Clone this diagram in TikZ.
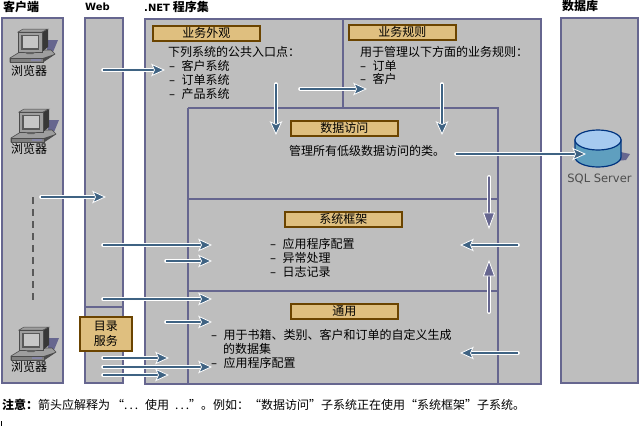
\documentclass[tikz,border=0pt]{standalone}
\usepackage{fontspec}
\setmainfont{Noto Sans CJK SC}
\newfontfamily\latinf{DejaVu Sans}
\definecolor{panelgray}{HTML}{BEBEBE}
\definecolor{edgeblue}{HTML}{66668F}
\definecolor{arrowblue}{HTML}{3F6383}
\definecolor{labelfill}{HTML}{DFBF7F}
\definecolor{labeledge}{HTML}{6B4400}
\definecolor{cylbody}{HTML}{5F9FBF}
\definecolor{cyltop}{HTML}{A6CAF0}
\definecolor{cyledge}{HTML}{00337F}
\tikzset{
  panel/.style={draw=edgeblue,fill=panelgray,line width=1.3pt},
  divider/.style={draw=edgeblue,line width=1.3pt},
  tag/.style={draw=labeledge,fill=labelfill,line width=1.5pt,font=\fontsize{12}{14}\selectfont,inner sep=0pt,anchor=north west,align=center},
  txt/.style={font=\fontsize{12}{14}\selectfont,anchor=west,inner sep=0pt},
  head/.style={font=\fontsize{12}{14}\selectfont\bfseries,anchor=west,inner sep=0pt},
  conn/.style={draw=white,line width=3.6pt,line cap=round},
  hollow/.style={draw=white,line width=4pt,line cap=round},
  hollowcore/.style={draw=edgeblue,line width=1.2pt,line cap=round}
}
\newcommand{\dashmark}{{\latinf –}\hspace{6.5pt}}
\newcommand{\connarrow}[2]{%
  \draw[conn,shorten >=6pt] (#1) -- (#2);
  \draw[arrowblue,line width=2pt,shorten >=6pt] (#1) -- (#2);
  \coordinate (t) at ($(#2)!12pt!(#1)$);
  \coordinate (u) at ($(t)!5.5pt!90:(#2)$);
  \coordinate (v) at ($(t)!5.5pt!-90:(#2)$);
  \coordinate (w) at ($(t)!2.5pt!(#2)$);
  \draw[white,line width=.8pt,fill=arrowblue] (#2) -- (u) -- (w) -- (v) -- cycle;
}
\newcommand{\hollowarrow}[2]{%
  \draw[hollow,shorten >=6pt] (#1) -- (#2);
  \draw[hollowcore,shorten >=6pt] (#1) -- (#2);
  \coordinate (t) at ($(#2)!15pt!(#1)$);
  \coordinate (u) at ($(t)!5.5pt!90:(#2)$);
  \coordinate (v) at ($(t)!5.5pt!-90:(#2)$);
  \draw[white,line width=.8pt,fill=edgeblue] (#2) -- (u) -- (v) -- cycle;
}
\newcommand{\pcicon}[1]{%
  \begin{scope}[shift={(#1)}]
    \fill[edgeblue] (37,12) -- (48,12) -- (43,24) -- (37,24) -- cycle;
    % base
    \fill[black!38,draw=black!70,line width=.6pt] (13,22) -- (41,22) -- (45,26) -- (33,34) -- (0,34) -- (0,30) -- cycle;
    \fill[black!50,draw=black!70,line width=.5pt] (0,30) -- (33,30) -- (33,34) -- (0,34) -- cycle;
    \fill[black!70] (33,30) -- (45,26) -- (33,34) -- cycle;
    \fill[edgeblue!80!white] (21,31) rectangle (31,33);
    % monitor
    \fill[black!78] (32,4) -- (38,1) -- (38,19) -- (32,24) -- cycle;
    \fill[black!38,draw=black!70,line width=.5pt] (8,4) -- (13,1) -- (38,1) -- (32,4) -- cycle;
    \fill[black!38,draw=black!70,line width=.6pt] (8,4) rectangle (32,24);
    \fill[black!65] (11,6.5) rectangle (29,21.5);
    \fill[black!22] (12.5,8) rectangle (27.5,20);
    \fill[black!62] (14,24) -- (26,24) -- (23,26) -- (17,26) -- cycle;
  \end{scope}
}
\usetikzlibrary{calc}
\begin{document}
\begin{tikzpicture}[x=1pt,y=-1pt]
\useasboundingbox (0,0) rectangle (639,426);
\fill[white] (0,0) rectangle (639,426);

% panels
\path[panel] (2,18) rectangle (63,383);
\path[panel] (85,18) rectangle (123,383);
\path[divider] (85,307) -- (123,307);
\path[panel] (145,19) rectangle (541,384);
\path[divider] (343,19) -- (343,108);
\path[divider] (188,108) -- (498,108) -- (498,384);
\path[divider] (188,108) -- (188,384);
\path[divider] (188,199) -- (498,199);
\path[divider] (188,291) -- (498,291);
\path[panel] (561,18) rectangle (638,383);

% headers
\node[head] (hclient) at (3,7) {客户端};
\node[head,font=\latinf\fontsize{10}{12}\selectfont\bfseries] (hweb) at (85,7) {Web};
\node[head] (hnet) at (144,7) {{\latinf\fontsize{10}{12}\selectfont\bfseries .NET} 程序集};
\node[head] (hdb) at (562,6) {数据库};

% clients
\pcicon{10,28}
\pcicon{11,108}
\pcicon{11,326}
\node[txt] (b1) at (11,71) {浏览器};
\node[txt] (b2) at (11,149) {浏览器};
\node[txt] (b3) at (11,367) {浏览器};
\coordinate (dashA) at (33,197);
\coordinate (dashB) at (33,300);
\draw[black!65,line width=1.3pt,dash pattern=on 7pt off 5pt] (dashA) -- (dashB);

% tags
\node[tag,minimum width=107pt,minimum height=15pt] (facade) at (152,25) {业务外观};
\node[tag,minimum width=107pt,minimum height=15pt] (rules) at (348,24) {业务规则};
\node[tag,minimum width=107pt,minimum height=15pt] (data) at (290,120) {数据访问};
\node[tag,minimum width=117pt,minimum height=15pt] (frame) at (284,211) {系统框架};
\node[tag,minimum width=107pt,minimum height=15pt] (common) at (290,303) {通用};
\node[tag,minimum width=52pt,minimum height=34pt,font=\fontsize{12}{15}\selectfont] (dir) at (79,316) {目录\\服务};

% texts
\node[txt] (t1) at (168,51.5) {下列系统的公共入口点：};
\node[txt] (t2) at (169,66) {\dashmark 客户系统};
\node[txt] (t3) at (169,80) {\dashmark 订单系统};
\node[txt] (t4) at (169,94) {\dashmark 产品系统};
\node[txt] (t5) at (360,51.5) {用于管理以下方面的业务规则：};
\node[txt] (t6) at (360,66) {\dashmark 订单};
\node[txt] (t7) at (360,79) {\dashmark 客户};
\node[txt] (t8) at (289,151) {管理所有低级数据访问的类。};
\node[txt] (t9) at (270,243.5) {\dashmark 应用程序配置};
\node[txt] (t10) at (270,257.5) {\dashmark 异常处理};
\node[txt] (t11) at (270,271.5) {\dashmark 日志记录};
\node[txt] (t12) at (211,335) {\dashmark 用于书籍、类别、客户和订单的自定义生成};
\node[txt] (t13) at (223,349) {的数据集};
\node[txt] (t14) at (211,363) {\dashmark 应用程序配置};
\node[txt] (note) at (2,404.5) {\textbf{注意：}箭头应解释为\hspace{2pt}“.\hspace{2pt}.\hspace{2pt}.\hspace{7pt}使用\hspace{6pt}.\hspace{2pt}.\hspace{2pt}.”。例如：“数据访问”子系统正在使用“系统框架”子系统。};
\coordinate (tickA) at (1,421);
\coordinate (tickB) at (1,426);
\draw[black,line width=.8pt] (tickA) -- (tickB);

% database
\fill[edgeblue] (616,151) -- (630,154) -- (626,160) -- (616,161) -- cycle;
\draw[draw=cyledge,fill=cylbody,line width=1.2pt] (575,140) -- (575,157) arc[start angle=180,end angle=0,x radius=23,y radius=10] -- (621,140) -- cycle;
\draw[draw=cyledge,fill=cyltop,line width=1.2pt] (598,140) ellipse[x radius=23,y radius=10];
\node[font=\latinf\fontsize{11.5}{13}\selectfont,text=black!70,inner sep=0pt] (sql) at (599.5,179) {SQL Server};

% connector end points
\coordinate (a1) at (103,70);   \coordinate (a2) at (164,70);
\coordinate (b1s) at (41,197);  \coordinate (b1e) at (105,197);
\coordinate (c1) at (276,84);   \coordinate (c2) at (276,134);
\coordinate (d1) at (300,89);   \coordinate (d2) at (366,89);
\coordinate (e1) at (442,84);   \coordinate (e2) at (442,134);
\coordinate (f1) at (456,154);  \coordinate (f2) at (585,154);
\coordinate (g1) at (518,245);  \coordinate (g2) at (461,245);
\coordinate (h1) at (518,353);  \coordinate (h2) at (461,353);
\coordinate (i1) at (103,245);  \coordinate (i2) at (211,245);
\coordinate (j1) at (166,261);  \coordinate (j2) at (211,261);
\coordinate (k1) at (103,299);  \coordinate (k2) at (211,299);
\coordinate (l1) at (166,322);  \coordinate (l2) at (211,322);
\coordinate (m1) at (103,358);  \coordinate (m2) at (168,358);
\coordinate (n1) at (103,367);  \coordinate (n2) at (211,367);
\coordinate (o1) at (103,375);  \coordinate (o2) at (168,375);
\coordinate (p1) at (489,177);  \coordinate (p2) at (489,228);
\coordinate (q1) at (489,312);  \coordinate (q2) at (489,261);

\connarrow{a1}{a2}
\connarrow{b1s}{b1e}
\connarrow{c1}{c2}
\connarrow{d1}{d2}
\connarrow{e1}{e2}
\connarrow{f1}{f2}
\connarrow{g1}{g2}
\connarrow{h1}{h2}
\connarrow{i1}{i2}
\connarrow{j1}{j2}
\connarrow{k1}{k2}
\connarrow{l1}{l2}
\connarrow{m1}{m2}
\connarrow{n1}{n2}
\connarrow{o1}{o2}
\hollowarrow{p1}{p2}
\hollowarrow{q1}{q2}
\end{tikzpicture}
\end{document}
